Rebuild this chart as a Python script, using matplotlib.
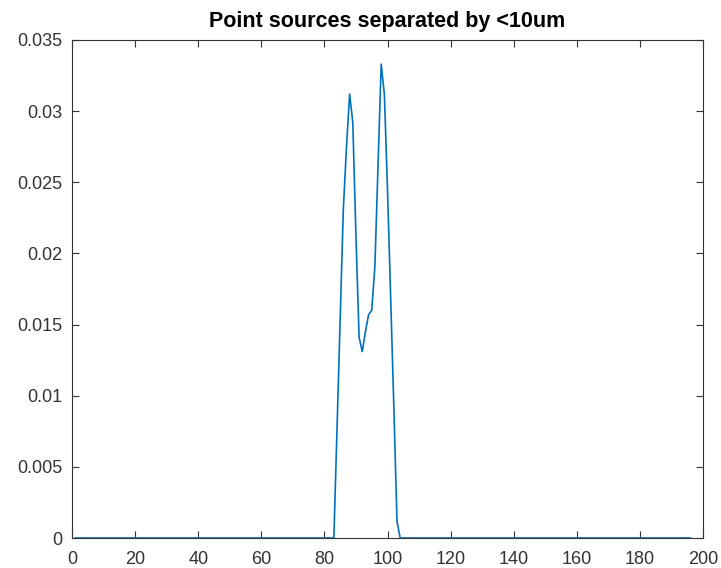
import numpy as np
import matplotlib
matplotlib.use("Agg")
import matplotlib.pyplot as plt

plt.rcParams['font.family'] = ['Liberation Sans', 'DejaVu Sans']

# sample positions and intensity profile of the two point sources
x_pos = np.arange(1, 197)
peak_start = 83
peak_values = [0.0, 0.0077, 0.0154, 0.0231, 0.0275, 0.0312, 0.0292, 0.0212,
               0.0141, 0.0131, 0.0145, 0.0157, 0.0160, 0.0191, 0.0262, 0.0333,
               0.0312, 0.0245, 0.0170, 0.0093, 0.0012, 0.0]
intensity = np.zeros(len(x_pos))
for i, v in enumerate(peak_values):
    intensity[peak_start - 1 + i] = v

xticks = [0, 20, 40, 60, 80, 100, 120, 140, 160, 180, 200]
yticks = [0, 0.005, 0.01, 0.015, 0.02, 0.025, 0.03, 0.035]
ytick_labels = ['0', '0.005', '0.01', '0.015', '0.02', '0.025', '0.03', '0.035']

fig = plt.figure(figsize=(7.21, 5.68), dpi=100)
ax = fig.add_axes([0.0999, 0.0528, 0.8751, 0.8768])
ax.plot(x_pos, intensity, color='#0072BD', linewidth=1.2)

ax.set_xlim(0, 200)
ax.set_ylim(0, 0.035)
ax.set_xticks(xticks)
ax.set_yticks(yticks)
ax.set_yticklabels(ytick_labels)
ax.tick_params(direction='in', top=True, right=True, length=5, width=0.8,
               colors='#333333', labelsize=13)
ax.tick_params(axis='x', pad=9)
ax.tick_params(axis='y', pad=7)
for s in ax.spines.values():
    s.set_color('#333333')
    s.set_linewidth(0.8)
ax.set_title('Point sources separated by <10um', fontsize=15.5,
             fontweight='bold', color='black', pad=9)

fig.savefig('out.png', dpi=100, facecolor='white')
